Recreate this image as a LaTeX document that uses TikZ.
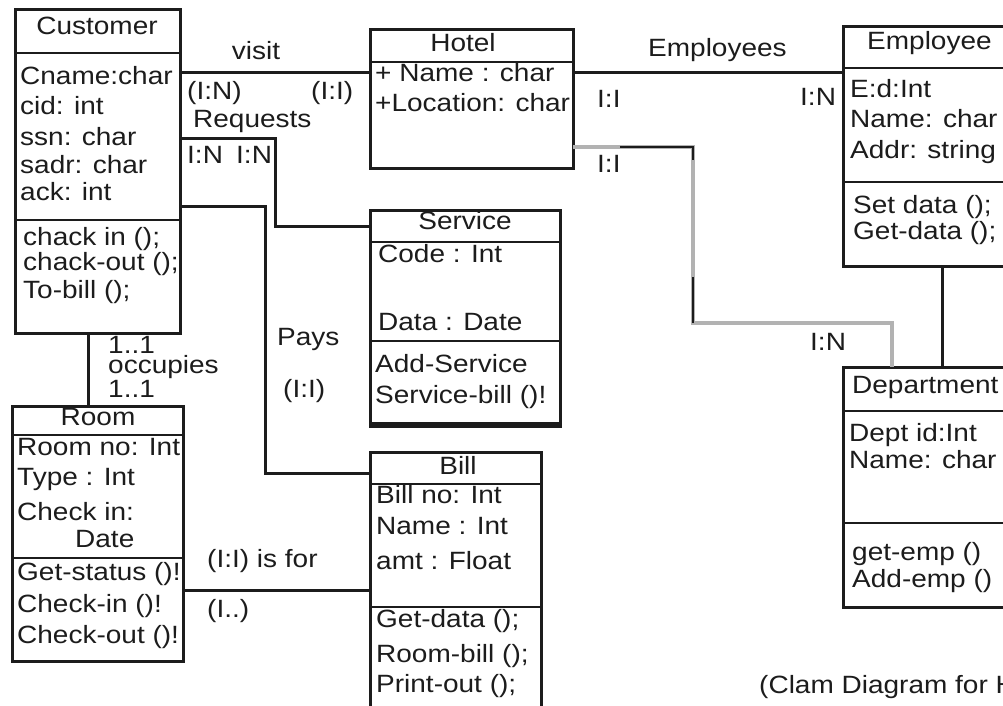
\documentclass[tikz,border=0pt]{standalone}
\usepackage{fontspec}
\setmainfont{Liberation Sans}[FakeStretch=1.12]
\definecolor{ink}{HTML}{1C1C1C}
\begin{document}
\tikzset{
 box/.style={draw=ink, line width=3pt, anchor=north west, inner sep=0pt, outer sep=0pt},
 ln/.style={draw=ink, line width=3pt},
 dv/.style={draw=ink, line width=2.6pt},
 gline/.style={draw=gray!60, line width=3.2pt},
 tx/.style={anchor=base west, inner sep=0pt, text=ink, font=\fontsize{25}{28}\selectfont},
 tc/.style={tx, anchor=base},
}
\begin{tikzpicture}[x=1pt,y=-1pt]
\useasboundingbox (0,0) rectangle (1003,706);
\clip (0,0) rectangle (1003,706);
% boxes
\node[box, minimum width=165pt, minimum height=323pt] (cust) at (15,10) {};
\node[box, minimum width=203pt, minimum height=138pt] (hotel) at (370,30) {};
\node[box, minimum width=190pt, minimum height=216pt] (serv) at (370,210) {};
\node[box, minimum width=171pt, minimum height=290pt] (bill) at (370,452) {};
\node[box, minimum width=171pt, minimum height=255pt] (room) at (12,406) {};
\node[box, minimum width=190pt, minimum height=239pt] (emp) at (843,27) {};
\node[box, minimum width=190pt, minimum height=240pt] (dept) at (843,367) {};
% dividers
\draw[dv] (cust.west |- 0,53) -- (cust.east |- 0,53);
\draw[dv] (cust.west |- 0,220) -- (cust.east |- 0,220);
\draw[dv] (hotel.west |- 0,62) -- (hotel.east |- 0,62);
\draw[dv] (serv.west |- 0,242) -- (serv.east |- 0,242);
\draw[dv] (serv.west |- 0,341) -- (serv.east |- 0,341);
\draw[draw=ink, line width=5pt] ([yshift=1.5pt]serv.south west) -- ([yshift=1.5pt]serv.south east);
\draw[dv] (bill.west |- 0,484) -- (bill.east |- 0,484);
\draw[dv] (bill.west |- 0,607) -- (bill.east |- 0,607);
\draw[dv] (room.west |- 0,435) -- (room.east |- 0,435);
\draw[dv] (room.west |- 0,558) -- (room.east |- 0,558);
\draw[dv] (emp.west |- 0,68) -- (emp.east |- 0,68);
\draw[dv] (emp.west |- 0,182) -- (emp.east |- 0,182);
\draw[dv] (dept.west |- 0,411) -- (dept.east |- 0,411);
\draw[dv] (dept.west |- 0,523) -- (dept.east |- 0,523);
% connectors
\coordinate (r1) at (275,138);
\coordinate (r2) at (275,226);
\coordinate (p1) at (265,206);
\coordinate (p2) at (265,473);
\coordinate (g1) at (693,147);
\coordinate (g2) at (693,323);
\coordinate (g3) at (892,323);
\draw[ln] (cust.east |- 0,73) -- (hotel.west |- 0,73);
\draw[ln] (hotel.east |- 0,73) -- (emp.west |- 0,73);
\draw[ln] (cust.east |- r1) -- (r1) -- (r2) -- (serv.west |- r2);
\draw[ln] (cust.east |- p1) -- (p1) -- (p2) -- (bill.west |- p2);
\draw[ln] (cust.south -| 88,0) -- (room.north -| 88,0);
\draw[ln] (room.east |- 0,590) -- (bill.west |- 0,590);
\draw[ln] (emp.south -| 942,0) -- (dept.north -| 942,0);
\draw[gline] (hotel.east |- g1) -- (g1) -- (g2) -- (g3) -- (dept.north -| g3);
\draw[draw=ink, line width=2pt] (620,147) -- (g1) -- (693,160);
\draw[draw=ink, line width=2pt] (693,277) -- (g2);
% Customer
\node[tc] (t1) at (97,35) {Customer};
\node[tx] (t2) at (20,85) {Cname:char};
\node[tx] (t3) at (20,115) {cid: int};
\node[tx] (t4) at (20,145) {ssn: char};
\node[tx] (t5) at (20,173) {sadr: char};
\node[tx] (t6) at (20,200) {ack: int};
\node[tx] (t7) at (23,245) {chack in ();};
\node[tx] (t8) at (23,270) {chack-out ();};
\node[tx] (t9) at (23,298) {To-bill ();};
% Hotel
\node[tc] (h1) at (463,52) {Hotel};
\node[tx] (h2) at (375,82) {+ Name : char};
\node[tx] (h3) at (375,112) {+Location: char};
% Service
\node[tc] (s1) at (465,229) {Service};
\node[tx] (s2) at (378,262) {Code : Int};
\node[tx] (s3) at (378,330) {Data : Date};
\node[tx] (s4) at (375,372) {Add-Service};
\node[tx] (s5) at (375,403) {Service-bill ()!};
% Bill
\node[tc] (b1) at (458,474) {Bill};
\node[tx] (b2) at (376,503) {Bill no: Int};
\node[tx] (b3) at (376,534) {Name : Int};
\node[tx] (b4) at (376,569) {amt : Float};
\node[tx] (b5) at (376,627) {Get-data ();};
\node[tx] (b6) at (376,662) {Room-bill ();};
\node[tx] (b7) at (376,692) {Print-out ();};
% Room
\node[tc] (m1) at (98,425) {Room};
\node[tx] (m2) at (17,455) {Room no: Int};
\node[tx] (m3) at (17,485) {Type : Int};
\node[tx] (m4) at (17,520) {Check in:};
\node[tx] (m5) at (75,547) {Date};
\node[tx] (m6) at (17,580) {Get-status ()!};
\node[tx] (m7) at (17,612) {Check-in ()!};
\node[tx] (m8) at (17,643) {Check-out ()!};
% Employee
\node[tx] (e1) at (867,50) {Employee};
\node[tx] (e2) at (850,98) {E:d:Int};
\node[tx] (e3) at (850,128) {Name: char};
\node[tx] (e4) at (850,158) {Addr: string};
\node[tx] (e5) at (853,213) {Set data ();};
\node[tx] (e6) at (853,239) {Get-data ();};
% Department
\node[tx] (d1) at (852,393) {Department};
\node[tx] (d2) at (849,441) {Dept id:Int};
\node[tx] (d3) at (849,468) {Name: char};
\node[tx] (d4) at (852,560) {get-emp ()};
\node[tx] (d5) at (852,587) {Add-emp ()};
% connector labels
\node[tc] (l1) at (256,60) {visit};
\node[tx] (l2) at (187,100) {(I:N)};
\node[tx] (l3) at (311,100) {(I:I)};
\node[tx] (l4) at (193,128) {Requests};
\node[tx] (l5) at (187,163) {I:N};
\node[tx] (l6) at (236,163) {I:N};
\node[tx] (l7) at (648,57) {Employees};
\node[tx] (l8) at (597,107) {I:I};
\node[tx] (l9) at (800,106) {I:N};
\node[tx] (l10) at (597,172) {I:I};
\node[tx] (l11) at (810,350) {I:N};
\node[tx, align=left, font=\fontsize{25}{20}\selectfont] (l12) at (108,397) {1..1\\occupies\\1..1};
\node[tx] (l15) at (277,345) {Pays};
\node[tx] (l16) at (283,397) {(I:I)};
\node[tx] (l17) at (207,567) {(I:I) is for};
\node[tx] (l18) at (207,617) {(I..)};
\node[tx] (cap) at (759,693) {(Clam Diagram for Hotel Management)};
\end{tikzpicture}
\end{document}
